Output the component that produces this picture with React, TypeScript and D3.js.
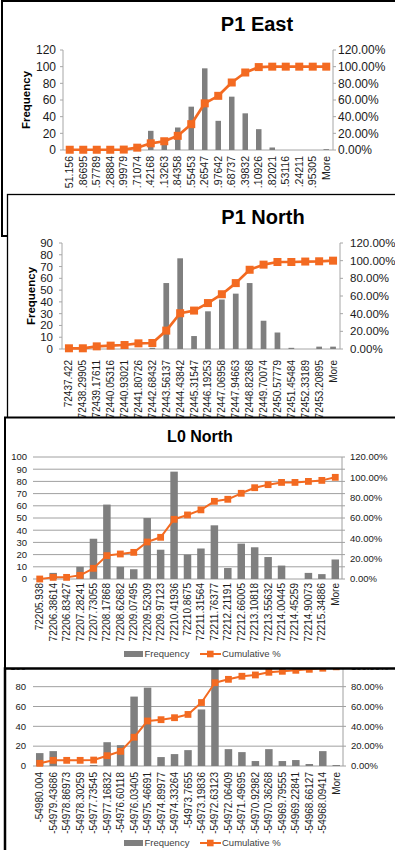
import React from 'react';
import * as d3 from 'd3';

// ---------- data ----------
const eastCategories = ["51.156", ".86695", ".57789", ".28884", ".99979", ".71074", ".42168", ".13263", ".84358", ".55453", ".26547", ".97642", ".68737", ".39832", ".10926", ".82021", ".53116", ".24211", ".95305", "More"];
const eastFrequency = [0, 0, 0, 0, 0, 0, 23, 8, 27, 52, 98, 35, 64, 44, 25, 3, 0, 0, 0, 1];
const eastCumulative = [0.3, 0.3, 0.3, 0.3, 0.5, 2.8, 8, 10.5, 17, 31, 56, 65, 81, 93, 99.5, 100, 100, 100, 100, 100];

const northCategories = ["72437.422", "72438.29905", "72439.17611", "72440.05316", "72440.93021", "72441.80726", "72442.68432", "72443.56137", "72444.43842", "72445.31547", "72446.19253", "72447.06958", "72447.94663", "72448.82368", "72449.70074", "72450.57779", "72451.45484", "72452.33189", "72453.20895", "More"];
const northFrequency = [0, 0, 0, 0, 0, 0, 1, 56, 77, 11, 32, 42, 47, 56, 24, 14, 1, 0, 2, 2];
const northCumulative = [0.8, 0.8, 3, 3.8, 4.5, 6.4, 6.8, 20.8, 40.5, 43.5, 52, 62, 74.6, 89.7, 95.5, 98.5, 98.5, 99, 99.3, 100];

const l0Categories = ["72205.938", "72206.38614", "72206.83427", "72207.28241", "72207.73055", "72208.17868", "72208.62682", "72209.07495", "72209.52309", "72209.97123", "72210.41936", "72210.8675", "72211.31564", "72211.76377", "72212.21191", "72212.66005", "72213.10818", "72213.55632", "72214.00445", "72214.45259", "72214.90073", "72215.34886", "More"];
const l0Frequency = [0, 5, 0, 10, 33, 61, 10, 8, 50, 24, 88, 20, 25, 44, 9, 29, 26, 18, 11, 0, 5, 4, 16];
const l0Cumulative = [0, 1.6, 1.6, 3.6, 10.5, 23, 24.6, 26.2, 36.4, 41, 58.7, 63, 68, 76.4, 78.4, 84.3, 89.8, 92.8, 95, 95, 96, 97, 100];

const eastingCategories = ["-54980.004", "-54979.43686", "-54978.86973", "-54978.30259", "-54977.73545", "-54977.16832", "-54976.60118", "-54976.03405", "-54975.46691", "-54974.89977", "-54974.33264", "-54973.7655", "-54973.19836", "-54972.63123", "-54972.06409", "-54971.49695", "-54970.92982", "-54970.36268", "-54969.79555", "-54969.22841", "-54968.66127", "-54968.09414", "More"];
const eastingFrequency = [13, 15, 0, 0, 1, 24, 21, 70, 79, 9, 12, 16, 57, 108, 17, 14, 5, 17, 5, 6, 2, 15, 1];
const eastingCumulative = [2.7, 5.7, 5.7, 5.7, 6, 10.4, 14.8, 29, 45.4, 46.7, 48.7, 52, 64, 84, 87.4, 90.5, 91.8, 94.5, 95.5, 96.5, 97.5, 98.6, 100];

const legendLabels = ["Frequency", "Cumulative %"];

// ---------- style ----------
const ORANGE = '#F36A21';
const BAR = '#7f7f7f';
const AXIS = '#a6a6a6';
const GRID = '#a0a0a0';
const TXT = '#1a1a1a';
const FONT = "'Liberation Sans', Arial, Helvetica, sans-serif";

type PanelProps = {
  id: string;
  frame: { x: number; y: number; w: number; h: number; stroke: number };
  cats: string[]; freq: number[]; cum: number[];
  x0: number; x1: number; yTop: number; yBottom: number;
  leftMax: number; leftStep: number;
  leftLabelX: number; rightLabelX: number; tickFont: number;
  catFont: number; catAnchorY: number;
  barWidth: number; markerSize: number; lineWidth: number;
  grid: boolean;
  title?: { text: string; x: number; y: number; size: number };
  yTitle?: { x: number; y: number };
  legendY?: number;
};

function Panel(p: PanelProps) {
  const x = d3.scaleBand<string>().domain(p.cats).range([p.x0, p.x1]);
  const yL = d3.scaleLinear().domain([0, p.leftMax]).range([p.yBottom, p.yTop]);
  const yR = d3.scaleLinear().domain([0, 120]).range([p.yBottom, p.yTop]);
  const cx = (c: string) => (x(c) as number) + x.bandwidth() / 2;
  const leftTicks = d3.range(0, p.leftMax + 0.001, p.leftStep);
  const rightTicks = d3.range(0, 120.001, 20);
  const line = d3.line<number>().x((_, i) => cx(p.cats[i])).y(d => yR(d));
  const pct = (v: number) => v.toFixed(2) + '%';
  const f = p.frame;
  const clipId = 'clip-' + p.id;
  const ms = p.markerSize;

  return (
    <g>
      <defs>
        <clipPath id={clipId}>
          <rect x={f.x} y={f.y} width={f.w} height={f.h} />
        </clipPath>
      </defs>
      <rect x={f.x} y={f.y} width={f.w} height={f.h} fill="#fff" />
      <g clipPath={`url(#${clipId})`}>
        {p.title && (
          <text x={p.title.x} y={p.title.y} textAnchor="middle" fontWeight="bold" fontSize={p.title.size} fill="#000">{p.title.text}</text>
        )}
        {p.yTitle && (
          <text transform={`translate(${p.yTitle.x},${p.yTitle.y}) rotate(-90)`} textAnchor="middle" fontWeight="bold" fontSize={11.5} fill="#000">Frequency</text>
        )}
        {p.grid ? (
          <g>
            {leftTicks.map(t => (
              <line key={'g' + t} x1={p.x0} x2={p.x1 + 3} y1={yL(t)} y2={yL(t)} stroke={GRID} strokeWidth={1} />
            ))}
            <line x1={p.x1} x2={p.x1} y1={p.yTop} y2={p.yBottom} stroke={GRID} strokeWidth={1} />
          </g>
        ) : (
          <g stroke={AXIS} strokeWidth={1}>
            <line x1={p.x0} x2={p.x0} y1={p.yTop} y2={p.yBottom} />
            <line x1={p.x1} x2={p.x1} y1={p.yTop} y2={p.yBottom} />
            <line x1={p.x0} x2={p.x1} y1={p.yBottom} y2={p.yBottom} />
            {leftTicks.map(t => (
              <line key={'lt' + t} x1={p.x0 - 3} x2={p.x0} y1={yL(t)} y2={yL(t)} />
            ))}
            {rightTicks.map(t => (
              <line key={'rt' + t} x1={p.x1} x2={p.x1 + 3} y1={yR(t)} y2={yR(t)} />
            ))}
          </g>
        )}
        {leftTicks.map(t => (
          <text key={'ll' + t} x={p.leftLabelX} y={yL(t)} dy="0.35em" textAnchor="end" fontSize={p.tickFont} fill={TXT}>{t}</text>
        ))}
        {rightTicks.map(t => (
          <text key={'rl' + t} x={p.rightLabelX} y={yR(t)} dy="0.35em" textAnchor="start" fontSize={p.tickFont} fill={TXT}>{pct(t)}</text>
        ))}
        {p.cats.map((c, i) => (
          <rect key={'b' + i} x={cx(c) - p.barWidth / 2} y={yL(p.freq[i])} width={p.barWidth} height={p.yBottom - yL(p.freq[i])} fill={BAR} />
        ))}
        <path d={line(p.cum) || ''} fill="none" stroke={ORANGE} strokeWidth={p.lineWidth} strokeLinejoin="round" />
        {p.cum.map((v, i) => (
          <rect key={'m' + i} x={cx(p.cats[i]) - ms / 2} y={yR(v) - ms / 2} width={ms} height={ms} fill={ORANGE} />
        ))}
        {p.cats.map((c, i) => (
          <text key={'c' + i} transform={`translate(${cx(c)},${p.catAnchorY}) rotate(-90)`} dy="0.35em" textAnchor="end" fontSize={p.catFont} fill={TXT}>{c}</text>
        ))}
        {p.legendY !== undefined && (
          <g fontSize={9.5} fill="#404040">
            <rect x={124} y={p.legendY - 3} width={19} height={6} fill={BAR} />
            <text x={144.5} y={p.legendY} dy="0.35em">{legendLabels[0]}</text>
            <line x1={200} x2={221} y1={p.legendY} y2={p.legendY} stroke={ORANGE} strokeWidth={2} />
            <rect x={207} y={p.legendY - 3.3} width={6.6} height={6.6} fill={ORANGE} />
            <text x={222} y={p.legendY} dy="0.35em">{legendLabels[1]}</text>
          </g>
        )}
      </g>
      <rect x={f.x} y={f.y} width={f.w} height={f.h} fill="none" stroke="#000" strokeWidth={f.stroke} />
    </g>
  );
}

export default function App() {
  return (
    <svg width={395} height={850} style={{ position: 'absolute', left: 0, top: 0, fontFamily: FONT, background: '#fff' }}>
      <rect x={0} y={0} width={395} height={850} fill="#fff" />
      <Panel
        id="p1"
        frame={{ x: 2, y: 1, w: 500, h: 235, stroke: 2 }}
        cats={eastCategories} freq={eastFrequency} cum={eastCumulative}
        x0={63} x1={333} yTop={50} yBottom={150}
        leftMax={120} leftStep={20}
        leftLabelX={56} rightLabelX={338} tickFont={12}
        catFont={10.5} catAnchorY={156}
        barWidth={5.5} markerSize={8} lineWidth={2.7}
        grid={false}
        title={{ text: 'P1 East', x: 257, y: 31, size: 20 }}
        yTitle={{ x: 30, y: 100 }}
      />
      <Panel
        id="p2"
        frame={{ x: 7.5, y: 194.5, w: 500, h: 300, stroke: 1.3 }}
        cats={northCategories} freq={northFrequency} cum={northCumulative}
        x0={62} x1={340} yTop={243} yBottom={349}
        leftMax={90} leftStep={10}
        leftLabelX={53} rightLabelX={350} tickFont={11.5}
        catFont={10} catAnchorY={360}
        barWidth={5.7} markerSize={8} lineWidth={2.7}
        grid={false}
        title={{ text: 'P1 North', x: 263, y: 224, size: 20 }}
        yTitle={{ x: 35, y: 296 }}
      />
      <Panel
        id="p3"
        frame={{ x: 5, y: 417.5, w: 500, h: 500, stroke: 2 }}
        cats={l0Categories} freq={l0Frequency} cum={l0Cumulative}
        x0={33} x1={342} yTop={457} yBottom={579}
        leftMax={100} leftStep={10}
        leftLabelX={27} rightLabelX={350} tickFont={9.5}
        catFont={10} catAnchorY={583}
        barWidth={7.5} markerSize={6.8} lineWidth={2}
        grid={true}
        title={{ text: 'L0 North', x: 200, y: 442, size: 16 }}
        legendY={654}
      />
      <Panel
        id="p4"
        frame={{ x: 5, y: 668.5, w: 500, h: 300, stroke: 2.5 }}
        cats={eastingCategories} freq={eastingFrequency} cum={eastingCumulative}
        x0={33} x1={343} yTop={647} yBottom={766}
        leftMax={120} leftStep={20}
        leftLabelX={26} rightLabelX={351} tickFont={9.5}
        catFont={10} catAnchorY={772}
        barWidth={7.5} markerSize={6.8} lineWidth={2}
        grid={true}
        legendY={843}
      />
    </svg>
  );
}
